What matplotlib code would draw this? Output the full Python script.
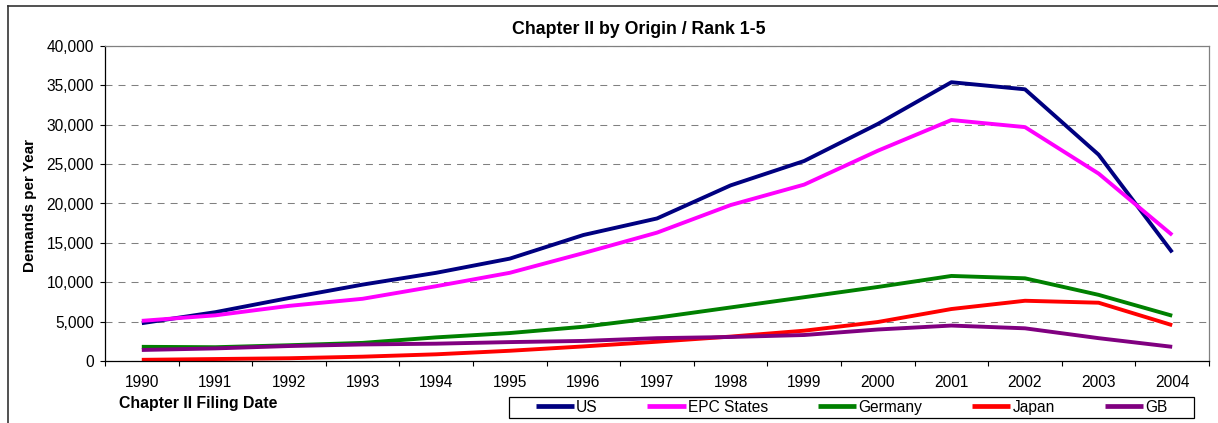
import matplotlib
matplotlib.use("Agg")
import matplotlib.pyplot as plt
from matplotlib.patches import Rectangle
from matplotlib.lines import Line2D
from matplotlib.ticker import FuncFormatter, MultipleLocator, FixedLocator

plt.rcParams["font.family"] = ["Liberation Sans", "DejaVu Sans"]

# data
years = list(range(1990, 2005))
us = [4800, 6200, 8000, 9700, 11200, 13000, 16000, 18100, 22300, 25400, 30100, 35400, 34500, 26200, 13800]
epc = [5100, 5800, 7000, 7900, 9500, 11200, 13700, 16300, 19800, 22400, 26700, 30600, 29700, 23800, 16000]
germany = [1800, 1750, 2000, 2300, 3000, 3550, 4350, 5500, 6800, 8100, 9400, 10800, 10500, 8400, 5750]
japan = [150, 250, 350, 550, 850, 1300, 1850, 2450, 3100, 3850, 4950, 6600, 7650, 7400, 4550]
gb = [1400, 1600, 1900, 2100, 2200, 2400, 2550, 2900, 3050, 3300, 4000, 4500, 4150, 2900, 1800]

series = [("US", us, "#000080"),
          ("EPC States", epc, "#FF00FF"),
          ("Germany", germany, "#008000"),
          ("Japan", japan, "#FF0000"),
          ("GB", gb, "#800080")]

W, H = 1218, 423
fig = plt.figure(figsize=(W / 100, H / 100), dpi=100)
ax = fig.add_axes([105 / W, 1 - 361 / H, (1209 - 105) / W, (361 - 46) / H])

for name, vals, col in series:
    ax.plot(years, vals, color=col, lw=2.8, label=name, solid_capstyle="butt")

ax.set_xlim(1989.5, 2004.5)
ax.set_ylim(0, 40000)

ax.yaxis.set_major_locator(MultipleLocator(5000))
ax.yaxis.set_major_formatter(FuncFormatter(lambda v, p: f"{int(v):,}"))
ax.tick_params(axis="y", direction="out", length=3.6, width=0.8, pad=4.3, labelsize=11.2)

# category axis: ticks between categories, labels at centres
ax.xaxis.set_major_locator(FixedLocator([y - 0.5 for y in years] + [years[-1] + 0.5]))
ax.xaxis.set_major_formatter(FuncFormatter(lambda v, p: ""))
ax.xaxis.set_minor_locator(FixedLocator(years))
ax.xaxis.set_minor_formatter(FuncFormatter(lambda v, p: str(int(round(v)))))
ax.tick_params(axis="x", which="major", direction="out", length=3.6, width=0.8)
ax.tick_params(axis="x", which="minor", length=0, pad=10, labelsize=11.2)

ax.grid(axis="y", color="#808080", lw=0.75, linestyle=(0, (6.7, 5.8)))
ax.set_axisbelow(True)

for s in ["left", "bottom"]:
    ax.spines[s].set_color("black")
    ax.spines[s].set_linewidth(0.9)
for s in ["top", "right"]:
    ax.spines[s].set_color("#808080")
    ax.spines[s].set_linewidth(0.9)

fig.text(639 / W, 1 - 29 / H, "Chapter II by Origin / Rank 1-5",
         ha="center", va="center", fontsize=12.8, fontweight="bold")
fig.text(30 / W, 1 - 205 / H, "Demands per Year", rotation=90,
         ha="center", va="center", fontsize=11, fontweight="bold")
fig.text(119 / W, 1 - 403 / H, "Chapter II Filing Date",
         ha="left", va="center", fontsize=11.4, fontweight="bold")

leg = fig.legend(loc="center", bbox_to_anchor=(851.5 / W, 1 - 407 / H), ncol=5,
                 frameon=False, fontsize=11.2, handlelength=2.45,
                 handletextpad=0.15, columnspacing=3.2)
for h in leg.get_lines():
    h.set_linewidth(3.4)
fig.patches.append(Rectangle((509 / W, 1 - 418 / H), (1194 - 509) / W, 21 / H,
                             transform=fig.transFigure, fill=False,
                             edgecolor="black", lw=0.9))

# outer chart-area border (left and top visible)
fig.lines.append(Line2D([8 / W, 8 / W], [0, 1 - 5.7 / H], transform=fig.transFigure,
                        color="#333333", lw=1.2))
fig.lines.append(Line2D([8 / W, 1], [1 - 5.7 / H, 1 - 5.7 / H], transform=fig.transFigure,
                        color="#333333", lw=1.2))

fig.savefig("out.png", dpi=100, facecolor="white")
